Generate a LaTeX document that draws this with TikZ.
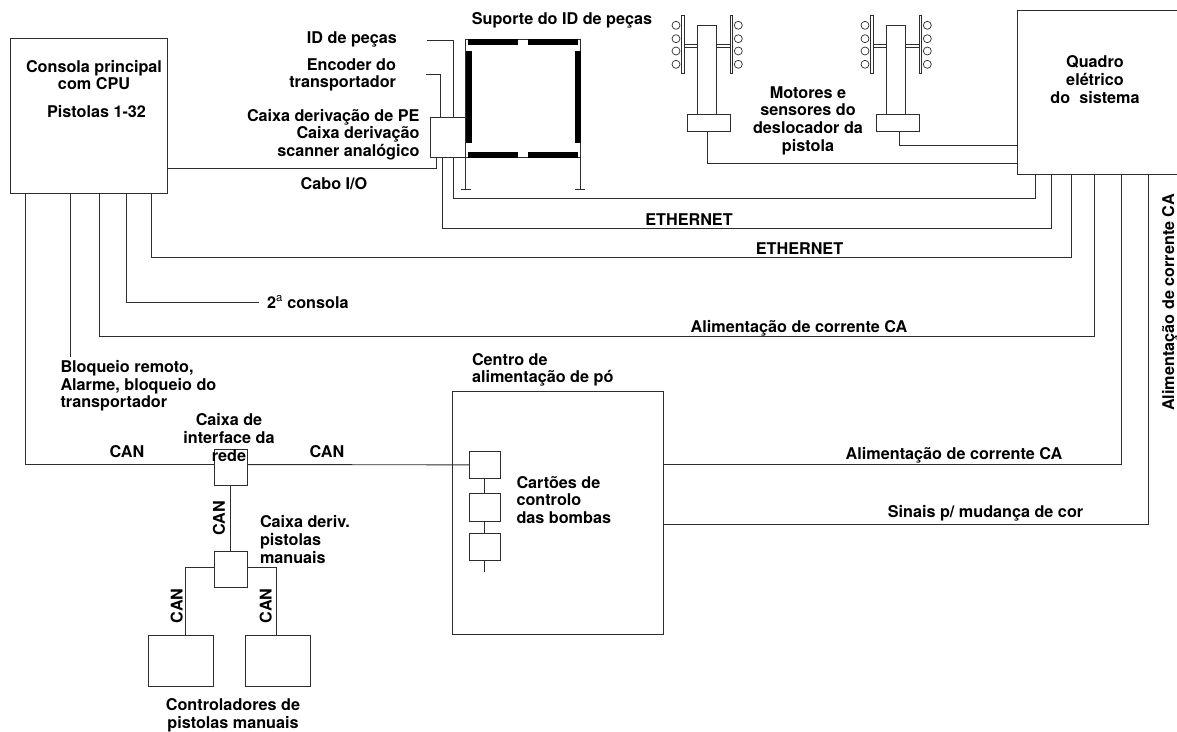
\documentclass[tikz,border=0pt]{standalone}
\usepackage{fontspec}
\setmainfont{TeX Gyre Heros}
\usetikzlibrary{calc}
\definecolor{ink}{RGB}{45,45,45}
\tikzset{
  box/.style={draw=ink, line width=0.9pt, inner sep=0pt, outer sep=0pt, anchor=north west},
  wire/.style={draw=ink, line width=0.9pt},
  lbl/.style={inner sep=0pt, outer sep=0pt, align=center, text=black},
  lblleft/.style={lbl, align=left, anchor=west},
  lblright/.style={lbl, align=right, anchor=east},
  bar/.style={fill=black, draw=none},
}
\begin{document}
\begin{tikzpicture}[x=1pt, y=-1pt, font=\fontsize{16.2}{17.6}\selectfont\bfseries]
  \clip (0,0) rectangle (1177,731);
  % main boxes
  \node[box, minimum width=157, minimum height=155] (console) at (10,38) {};
  \node[box, minimum width=170, minimum height=164] (quadro) at (1017,10) {};
  \node[box, minimum width=35, minimum height=40] (jbox) at (430,117) {};
  \node[box, minimum width=114.5, minimum height=118] (rack) at (465.8,39) {};
  \node[box, minimum width=211.5, minimum height=242.5] (center) at (452.3,391.7) {};
  \node[box, minimum width=32.3, minimum height=35.7] (ifbox) at (214.7,449.3) {};
  \node[box, minimum width=32.3, minimum height=36] (derivbox) at (214.7,551.3) {};
  \node[box, minimum width=65, minimum height=51.4] (ctrlone) at (148.3,635.3) {};
  \node[box, minimum width=65, minimum height=51.4] (ctrltwo) at (245.7,635.3) {};
  \node[box, minimum width=31, minimum height=27.7] (cardone) at (469,451) {};
  \node[box, minimum width=31, minimum height=27.7] (cardtwo) at (469,493.3) {};
  \node[box, minimum width=31, minimum height=27.4] (cardthree) at (469,533.3) {};
  % part id rack
  \fill[bar] (468,39.3) rectangle (517.5,45);
  \fill[bar] (528.3,39.3) rectangle (578,45);
  \fill[bar] (468,152) rectangle (517.5,157.5);
  \fill[bar] (528.3,152) rectangle (578,157.5);
  \fill[bar] (465.5,51) rectangle (471.8,142.7);
  \fill[bar] (574.7,51) rectangle (581,142.7);
  \draw[wire, line width=0.7pt] (rack.south west) -- ++(0,32) coordinate (footleft);
  \draw[wire, line width=0.7pt] (rack.south east) -- ++(0,32) coordinate (footright);
  \draw[wire, line width=0.7pt] ([xshift=-5]footleft) -- ([xshift=5]footleft);
  \draw[wire, line width=0.7pt] ([xshift=-5]footright) -- ([xshift=5]footright);
  % gun movers
  \foreach \n/\dx in {one/0, two/189}{
    \begin{scope}[xshift=\dx]
      \node[box, minimum width=18.6, minimum height=89] (column\n) at (697.7,25.3) {};
      \node[box, minimum width=43, minimum height=17] (base\n) at (687.3,114.3) {};
      \draw[wire, line width=0.7pt] (681.7,15) rectangle (684.3,73);
      \draw[wire, line width=0.7pt] (730.3,15) rectangle (732.6,73);
      \draw[wire, line width=0.7pt] (684.3,44.3) -- (697.7,44.3) (684.3,47.7) -- (697.7,47.7);
      \draw[wire, line width=0.7pt] (716.3,44.3) -- (730.3,44.3) (716.3,47.7) -- (730.3,47.7);
      \foreach \y in {25.3,38.7,51,64.3}{
        \draw[wire, line width=0.7pt] (676,\y) circle[radius=4];
        \draw[wire, line width=0.7pt] (738.3,\y) circle[radius=4];
      }
    \end{scope}
  }
  % connectors from the panel
  \draw[wire] ([xshift=20.4]baseone.south west) -- ++(0,32.4) -| ([yshift=10.3]quadro.south west);
  \draw[wire] ([xshift=23.4]basetwo.south west) -- ++(0,14.3) -| ([yshift=28.9]quadro.south west);
  \draw[wire] ([xshift=23]jbox.south west) -- ++(0,41) -| ([xshift=18.7]quadro.south west);
  \draw[wire] ([xshift=12.7]jbox.south west) -- ++(0,71) -| ([xshift=34]quadro.south west);
  \draw[wire] ([xshift=141]console.south west) -- ++(0,64.7) -| ([xshift=54.7]quadro.south west);
  \draw[wire] ([xshift=89.5]console.south west) -- ++(0,143) -| ([xshift=77]quadro.south west);
  \draw[wire] ([yshift=48.5]center.east) -| ([xshift=104.5]quadro.south west);
  \draw[wire] ([yshift=-11]center.east) -| ([xshift=131.5]quadro.south west);
  % console and rack side
  \draw[wire] ([xshift=6]jbox.south west) -- ++(0,11.5) -| ([yshift=24]console.south east);
  \draw[wire] ([xshift=116.5]console.south west) |- (259,302) coordinate (secondend);
  \draw[wire] ([xshift=60]console.south west) -- (70,357);
  \draw[wire] (427,40) -| ([xshift=23]jbox.north west);
  \draw[wire] (426,74) -| ([xshift=10.5]jbox.north west);
  % can bus
  \draw[wire] ([xshift=15]console.south west) |- ([yshift=2.6]ifbox.west);
  \draw[wire] ([yshift=2.6]ifbox.east) -- (cardone.west);
  \draw[wire] (ifbox) -- (derivbox);
  \draw[wire] ([yshift=2]derivbox.west) -| ([xshift=37.4]ctrlone.north west);
  \draw[wire] ([yshift=2]derivbox.east) -| ([xshift=30.3]ctrltwo.north west);
  \draw[wire] (cardone) -- (cardtwo);
  \draw[wire] (cardtwo) -- (cardthree);
  \draw[wire] (cardthree.south) -- ++(0,11);
  % labels
  \node[lbl] (consolelabel) at (94,75) {Consola principal\\com CPU};
  \node[lbl] (gunslabel) at (96.5,111.5) {Pistolas 1-32};
  \node[lbl] (quadrolabel) at (1095,79.5) {Quadro\\elétrico\\do\ \ sistema};
  \node[lbl] (rackidlabel) at (562,20) {Suporte do ID de peças};
  \node[lblright] (partidlabel) at (397,39) {ID de peças};
  \node[lblright] (encoderlabel) at (396,75) {Encoder do\\transportador};
  \node[lblright] (jboxlabel) at (419.5,134.5) {Caixa derivação de PE\\Caixa derivação\\scanner analógico};
  \node[lbl] (cablelabel) at (334,183.5) {Cabo I/O};
  \node[lbl] (moverlabel) at (808,120.5) {Motores e\\sensores do\\deslocador da\\pistola};
  \node[lbl] (ethonelabel) at (689,220) {ETHERNET};
  \node[lbl] (ethtwolabel) at (799.5,249) {ETHERNET};
  \node[lblleft] (secondlabel) at (267,302) {2\textsuperscript{\mdseries a} consola};
  \node[lbl] (acupperlabel) at (799,328) {Alimentação de corrente CA};
  \node[lbl, rotate=90] (acsidelabel) at (1170,302.5) {Alimentação de corrente CA};
  \node[lblleft] (lockoutlabel) at (60.5,386) {Bloqueio remoto,\\Alarme, bloqueio do\\transportador};
  \node[lbl] (iflabel) at (229,437.5) {Caixa de\\interface da\\rede};
  \node[lbl] (canleftlabel) at (127,452) {CAN};
  \node[lbl] (canrightlabel) at (327,452) {CAN};
  \node[lbl, rotate=90] (canmidlabel) at (219,518) {CAN};
  \node[lbl, rotate=90] (canctrlonelabel) at (176.7,605.7) {CAN};
  \node[lbl, rotate=90] (canctrltwolabel) at (265.7,605.7) {CAN};
  \node[lblleft] (derivlabel) at (260,539.5) {Caixa deriv.\\pistolas\\manuais};
  \node[lbl] (ctrllabel) at (233,715) {Controladores de\\pistolas manuais};
  \node[lblleft] (centerlabel) at (472,370) {Centro de\\alimentação de pó};
  \node[lblleft] (cardslabel) at (516.5,500) {Cartões de\\controlo\\das bombas};
  \node[lbl] (aclowerlabel) at (954,455) {Alimentação de corrente CA};
  \node[lbl] (colourlabel) at (985.5,513) {Sinais p/ mudança de cor};
\end{tikzpicture}
\end{document}
